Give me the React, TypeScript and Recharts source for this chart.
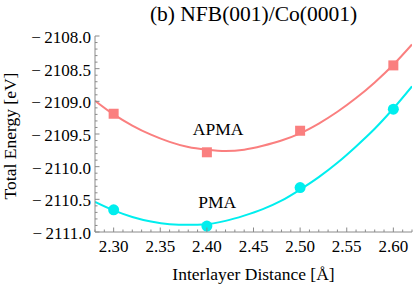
import { ComposedChart, Line, Scatter, XAxis, YAxis, ReferenceDot } from 'recharts';

// fitted curves
const fitDistance = [2.28, 2.3, 2.32, 2.34, 2.36, 2.38, 2.4, 2.42, 2.44, 2.46, 2.48, 2.5, 2.52, 2.54, 2.56, 2.58, 2.6, 2.62];
const apmaFit = [-2108.99, -2109.2, -2109.37, -2109.51, -2109.62, -2109.7, -2109.74, -2109.76, -2109.74, -2109.68, -2109.6, -2109.49, -2109.34, -2109.16, -2108.95, -2108.71, -2108.44, -2108.13];
const pmaFit = [-2110.54, -2110.67, -2110.77, -2110.84, -2110.88, -2110.89, -2110.88, -2110.83, -2110.75, -2110.65, -2110.52, -2110.35, -2110.16, -2109.94, -2109.69, -2109.42, -2109.11, -2108.77];

// computed points
const distance = [2.3, 2.4, 2.5, 2.6];
const apmaEnergy = [-2109.19, -2109.78, -2109.45, -2108.45];
const pmaEnergy = [-2110.66, -2110.91, -2110.32, -2109.12];

const xTicks = Array.from({ length: 35 }, (_, i) => Math.round((2.28 + i * 0.01) * 100) / 100);
const yTicks = Array.from({ length: 31 }, (_, i) => Math.round((-2111 + i * 0.1) * 10) / 10);

const APMA_COLOR = '#fa7f7f';
const PMA_COLOR = '#00eeee';
const FRAME = '#8a8a8a';
const FONT = '"Liberation Serif", "Times New Roman", serif';

const apmaCurve = fitDistance.map((x, i) => ({ x, y: apmaFit[i] }));
const pmaCurve = fitDistance.map((x, i) => ({ x, y: pmaFit[i] }));
const apmaPoints = distance.map((x, i) => ({ x, y: apmaEnergy[i] }));
const pmaPoints = distance.map((x, i) => ({ x, y: pmaEnergy[i] }));

const isMajor = (v: number, step: number) => Math.abs(v / step - Math.round(v / step)) < 1e-6;
const fmtY = (v: number) => `\u2212\u2009${Math.abs(v).toFixed(1)}`;

const BottomTick = ({ x, y, payload }: any) => {
    const major = isMajor(payload.value, 0.05);
    return (
        <g>
            <line x1={x} x2={x} y1={y} y2={y - (major ? 4.5 : 2.5)} stroke={FRAME} />
            {major && (
                <text x={x} y={y + 20} textAnchor="middle" fontFamily={FONT} fontSize={17} fill="#000">
                    {payload.value.toFixed(2)}
                </text>
            )}
        </g>
    );
};

const TopTick = ({ x, y, payload }: any) => {
    const major = isMajor(payload.value, 0.05);
    return <line x1={x} x2={x} y1={y} y2={y + (major ? 4.5 : 2.5)} stroke={FRAME} />;
};

const LeftTick = ({ x, y, payload }: any) => {
    const major = isMajor(payload.value, 0.5);
    return (
        <g>
            <line x1={x} x2={x + (major ? 4.5 : 2.5)} y1={y} y2={y} stroke={FRAME} />
            {major && (
                <text x={x - 4} y={y + 7} textAnchor="end" fontFamily={FONT} fontSize={17} fill="#000">
                    {fmtY(payload.value)}
                </text>
            )}
        </g>
    );
};

const RightTick = ({ x, y, payload }: any) => {
    const major = isMajor(payload.value, 0.5);
    return <line x1={x} x2={x - (major ? 4.5 : 2.5)} y1={y} y2={y} stroke={FRAME} />;
};

const Square = ({ cx, cy }: any) => <rect x={cx - 5} y={cy - 5} width={10} height={10} fill={APMA_COLOR} />;
const Circle = ({ cx, cy }: any) => <circle cx={cx} cy={cy} r={5.5} fill={PMA_COLOR} />;

export default function App() {
    return (
        <div style={{ position: 'absolute', left: 0, top: 0, width: 415, height: 288, background: '#fff' }}>
            <ComposedChart width={415} height={288} margin={{ top: 36, right: 3, bottom: 0, left: 0 }}>
                <XAxis
                    xAxisId="b"
                    dataKey="x"
                    type="number"
                    domain={[2.28, 2.62]}
                    allowDataOverflow
                    ticks={xTicks}
                    interval={0}
                    height={56}
                    tickSize={0}
                    tickMargin={0}
                    tickLine={false}
                    axisLine={{ stroke: FRAME }}
                    tick={BottomTick}
                />
                <XAxis
                    xAxisId="t"
                    orientation="top"
                    dataKey="x"
                    type="number"
                    domain={[2.28, 2.62]}
                    allowDataOverflow
                    ticks={xTicks}
                    interval={0}
                    height={0}
                    tickSize={0}
                    tickMargin={0}
                    tickLine={false}
                    axisLine={{ stroke: FRAME }}
                    tick={TopTick}
                />
                <YAxis
                    yAxisId="l"
                    type="number"
                    domain={[-2111, -2108]}
                    allowDataOverflow
                    ticks={yTicks}
                    interval={0}
                    width={95}
                    tickSize={0}
                    tickMargin={0}
                    tickLine={false}
                    axisLine={{ stroke: FRAME }}
                    tick={LeftTick}
                />
                <YAxis
                    yAxisId="r"
                    orientation="right"
                    type="number"
                    domain={[-2111, -2108]}
                    allowDataOverflow
                    ticks={yTicks}
                    interval={0}
                    width={0}
                    tickSize={0}
                    tickMargin={0}
                    tickLine={false}
                    axisLine={{ stroke: FRAME }}
                    tick={RightTick}
                />
                <Line xAxisId="b" yAxisId="l" data={apmaCurve} dataKey="y" type="monotone" stroke={APMA_COLOR} strokeWidth={2} dot={false} isAnimationActive={false} />
                <Line xAxisId="b" yAxisId="l" data={pmaCurve} dataKey="y" type="monotone" stroke={PMA_COLOR} strokeWidth={2} dot={false} isAnimationActive={false} />
                <Scatter xAxisId="b" yAxisId="l" data={apmaPoints} dataKey="y" shape={Square} isAnimationActive={false} />
                <Scatter xAxisId="b" yAxisId="l" data={pmaPoints} dataKey="y" shape={Circle} isAnimationActive={false} />
                <ReferenceDot
                    xAxisId="b"
                    yAxisId="l"
                    x={2.412}
                    y={-2109.42}
                    r={0}
                    stroke="none"
                    label={{ value: 'APMA', position: 'center', fontFamily: FONT, fontSize: 17.5, fill: '#000' }}
                />
                <ReferenceDot
                    xAxisId="b"
                    yAxisId="l"
                    x={2.411}
                    y={-2110.53}
                    r={0}
                    stroke="none"
                    label={{ value: 'PMA', position: 'center', fontFamily: FONT, fontSize: 17.5, fill: '#000' }}
                />
            </ComposedChart>
            <svg width={415} height={288} style={{ position: 'absolute', left: 0, top: 0, pointerEvents: 'none' }}>
                <text x={253.5} y={20.5} textAnchor="middle" fontFamily={FONT} fontSize={21.5} fill="#000">
                    (b) NFB(001)/Co(0001)
                </text>
                <text x={253.5} y={280} textAnchor="middle" fontFamily={FONT} fontSize={17.5} fill="#000">
                    Interlayer Distance [Å]
                </text>
                <text x={15.5} y={136} transform="rotate(-90 15.5 136)" textAnchor="middle" fontFamily={FONT} fontSize={17.5} fill="#000">
                    Total Energy [eV]
                </text>
            </svg>
        </div>
    );
}
